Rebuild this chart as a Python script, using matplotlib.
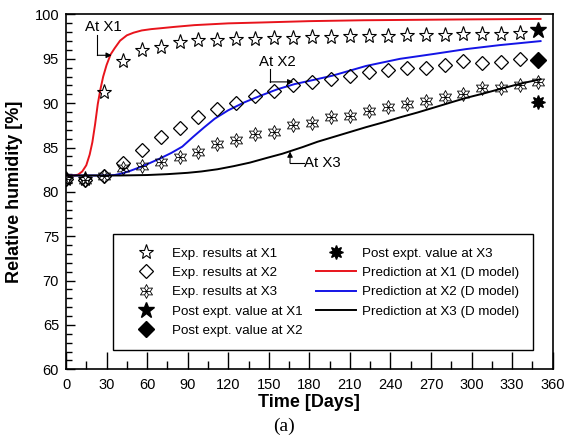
import numpy as np
import matplotlib
matplotlib.use("Agg")
import matplotlib.pyplot as plt
from matplotlib.path import Path
from matplotlib.ticker import MultipleLocator

# ---------------- data ----------------
exp_days = [0, 14, 28, 42, 56, 70, 84, 98, 112, 126, 140, 154, 168, 182, 196,
            210, 224, 238, 252, 266, 280, 294, 308, 322, 336]
exp_x1 = [81.5, 81.4, 91.3, 94.8, 96.0, 96.3, 96.9, 97.1, 97.1, 97.2, 97.2, 97.4, 97.4,
          97.5, 97.5, 97.6, 97.6, 97.6, 97.7, 97.7, 97.7, 97.8, 97.8, 97.8, 97.9]
exp_x2 = [81.5, 81.3, 81.8, 83.3, 84.7, 86.2, 87.2, 88.4, 89.4, 90.0, 90.8, 91.4, 92.0,
          92.4, 92.7, 93.05, 93.5, 93.7, 93.95, 93.95, 94.25, 94.8, 94.55, 94.6, 95.0]
exp_x3_days = [0, 14, 28, 42, 56, 70, 84, 98, 112, 126, 140, 154, 168, 182, 196,
               210, 224, 238, 252, 266, 280, 294, 308, 322, 336, 349]
exp_x3 = [81.5, 81.3, 81.8, 82.7, 82.9, 83.4, 83.9, 84.5, 85.4, 85.8, 86.5, 86.7, 87.5,
          87.75, 88.4, 88.6, 89.1, 89.55, 89.9, 90.3, 90.7, 91.0, 91.7, 91.75, 92.0, 92.4]

post_day = [349]
post_x1 = [98.2]
post_x2 = [94.9]
post_x3 = [90.1]

pred_x1_days = [0, 6, 9, 12, 15, 17.5, 19.5, 21.5, 23.5, 25.5, 27.5, 30, 33, 36, 40, 45,
                50, 56, 63, 70, 80, 95, 120, 145, 180, 220, 260, 300, 351]
pred_x1 = [81.85, 81.85, 81.95, 82.3, 83.0, 84.2, 85.6, 87.6, 89.9, 91.6, 93.0, 94.3,
           95.5, 96.2, 97.05, 97.65, 97.95, 98.2, 98.35, 98.45, 98.6, 98.8, 99.0, 99.1,
           99.25, 99.35, 99.4, 99.45, 99.5]

pred_x2_days = [0, 30, 36, 42, 48, 55, 62, 70, 78, 86, 94, 102, 110, 120, 132, 144, 156,
                169, 181, 197, 222, 247, 272, 296, 321, 351]
pred_x2 = [81.85, 81.85, 81.9, 82.1, 82.4, 82.8, 83.25, 83.8, 84.4, 85.1, 86.2, 87.25,
           88.25, 89.2, 90.1, 90.85, 91.55, 92.15, 92.55, 93.1, 94.2, 95.0, 95.55, 96.1,
           96.55, 97.0]

pred_x3_days = [0, 40, 60, 75, 90, 100, 112, 124, 136, 149, 160, 167, 175, 186, 198, 210,
                222, 235, 247, 260, 272, 285, 296, 309, 321, 336, 351]
pred_x3 = [81.85, 81.85, 81.9, 82.0, 82.15, 82.3, 82.55, 82.9, 83.3, 83.85, 84.3, 84.65,
           85.05, 85.65, 86.2, 86.75, 87.3, 87.85, 88.4, 88.95, 89.5, 90.1, 90.6, 91.1,
           91.6, 92.2, 92.7]

x_ticks = [0, 30, 60, 90, 120, 150, 180, 210, 240, 270, 300, 330, 360]
y_ticks = [60, 65, 70, 75, 80, 85, 90, 95, 100]

# ---------------- custom marker for X3 experiments ----------------
def burst_marker():
    verts, codes = [], []
    n = 6
    for i in range(2 * n):
        ang = np.pi / 2 + i * np.pi / n
        r = 1.0 if i % 2 == 0 else 0.55
        verts.append((r * np.cos(ang), r * np.sin(ang)))
        codes.append(Path.MOVETO if i == 0 else Path.LINETO)
    verts.append((0, 0)); codes.append(Path.CLOSEPOLY)
    for ang in [0, np.pi / 3, 2 * np.pi / 3]:
        verts.append((0.5 * np.cos(ang), 0.5 * np.sin(ang))); codes.append(Path.MOVETO)
        verts.append((-0.5 * np.cos(ang), -0.5 * np.sin(ang))); codes.append(Path.LINETO)
    return Path(verts, codes)

plt.rcParams['font.family'] = ['Liberation Sans', 'DejaVu Sans']

fig = plt.figure(figsize=(5.68, 4.43), dpi=100)
ax = fig.add_axes([0.1162, 0.1664, 0.8569, 0.8009])

ax.plot(exp_days, exp_x1, linestyle='none', marker='*', ms=11, mfc='none', mec='black',
        mew=0.8, label='Exp. results at X1', zorder=3)
ax.plot(exp_days, exp_x2, linestyle='none', marker='D', ms=7.5, mfc='none', mec='black',
        mew=0.9, label='Exp. results at X2', zorder=3)
ax.plot(exp_x3_days, exp_x3, linestyle='none', marker=burst_marker(), ms=10, mfc='none',
        mec='black', mew=0.6, label='Exp. results at X3', zorder=3)
ax.plot(post_day, post_x1, linestyle='none', marker='*', ms=12, color='black',
        label='Post expt. value at X1', zorder=3)
ax.plot(post_day, post_x2, linestyle='none', marker='D', ms=8, color='black',
        label='Post expt. value at X2', zorder=3)
ax.plot(post_day, post_x3, linestyle='none', marker=(8, 1, 0), ms=10, color='black',
        label='Post expt. value at X3', zorder=3)
ax.plot(pred_x1_days, pred_x1, color='#e8141c', lw=1.4, label='Prediction at X1 (D model)', zorder=2)
ax.plot(pred_x2_days, pred_x2, color='#1414e6', lw=1.4, label='Prediction at X2 (D model)', zorder=2)
ax.plot(pred_x3_days, pred_x3, color='black', lw=1.4, label='Prediction at X3 (D model)', zorder=2)

ax.set_xlim(0, 360)
ax.set_ylim(60, 100)
ax.set_xticks(x_ticks)
ax.set_yticks(y_ticks)
ax.xaxis.set_minor_locator(MultipleLocator(15))
ax.yaxis.set_minor_locator(MultipleLocator(1))
ax.tick_params(axis='x', which='major', direction='in', length=12, width=1, labelsize=10.5, pad=6)
ax.tick_params(axis='x', which='minor', direction='in', length=6, width=1)
ax.tick_params(axis='y', which='major', direction='in', length=6.5, width=1, labelsize=10.5, pad=5)
ax.tick_params(axis='y', which='minor', direction='in', length=4.5, width=1)
ax.tick_params(top=False, right=False, which='both')
for s in ax.spines.values():
    s.set_linewidth(1.2)

ax.set_xlabel('Time [Days]', fontsize=13, fontweight='bold', labelpad=2)
ax.set_ylabel('Relative humidity [%]', fontsize=13, fontweight='bold', labelpad=8)

# annotations
arrow_kw = dict(arrowstyle='-|>', color='black', lw=0.8, mutation_scale=8, shrinkA=0, shrinkB=0)
ax.text(14, 98.6, 'At X1', fontsize=10.8, ha='left', va='center')
ax.plot([23.2, 23.2], [97.7, 95.4], color='black', lw=0.8)
ax.annotate('', xy=(33.8, 95.4), xytext=(23.2, 95.4), arrowprops=arrow_kw)

ax.text(143, 94.6, 'At X2', fontsize=10.8, ha='left', va='center')
ax.plot([150.9, 150.9], [93.9, 92.4], color='black', lw=0.8)
ax.annotate('', xy=(168.1, 92.4), xytext=(150.9, 92.4), arrowprops=arrow_kw)

ax.text(176, 83.25, 'At X3', fontsize=10.8, ha='left', va='center')
ax.plot([165.7, 176], [83.25, 83.25], color='black', lw=0.8)
ax.annotate('', xy=(165.7, 84.55), xytext=(165.7, 83.25), arrowprops=arrow_kw)

leg = ax.legend(ncol=2, loc='lower left', bbox_to_anchor=(0.0966, 0.054, 0.863, 0.3245),
                mode='expand', borderaxespad=0, fontsize=9.6, frameon=True, fancybox=False,
                edgecolor='black', framealpha=1, handlelength=3.0, handletextpad=0.45,
                labelspacing=0.52, borderpad=1.0, columnspacing=1.0)
leg.get_frame().set_linewidth(1.0)

fig.text(0.5, 0.038, '(a)', fontsize=14, family='Liberation Serif', ha='center', va='center')

fig.savefig('out.png', dpi=100)
